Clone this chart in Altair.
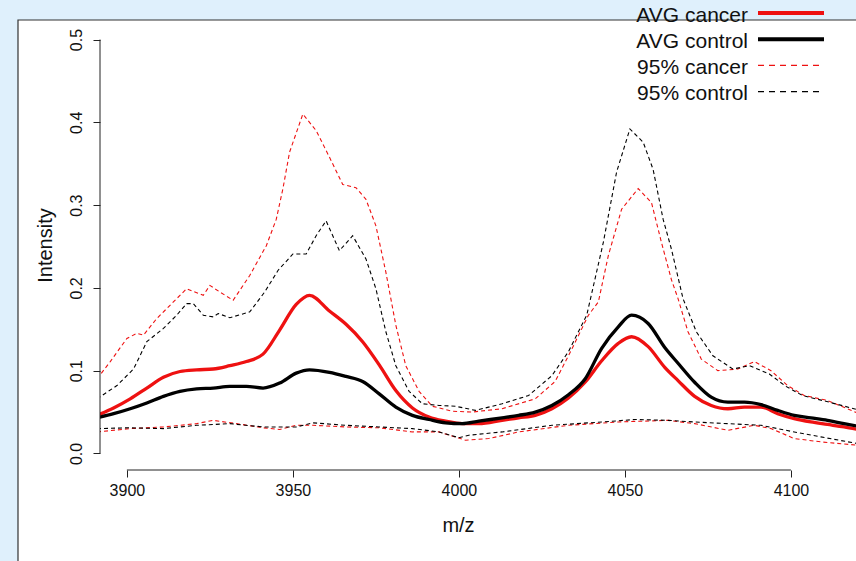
import altair as alt
import pandas as pd

# ---------------- data ----------------
grid_mz = [3891, 3896, 3901, 3906, 3911, 3916, 3921, 3926, 3931, 3936, 3941, 3946,
           3951, 3955, 3961, 3966, 3971, 3976, 3981, 3986, 3991, 3996, 4001, 4006,
           4013, 4018, 4023, 4028, 4033, 4038, 4043, 4048, 4052, 4057, 4062, 4066,
           4071, 4076, 4081, 4086, 4091, 4096, 4101, 4106, 4111, 4116, 4120]

avg_cancer = [0.046, 0.055, 0.066, 0.079, 0.092, 0.099, 0.101, 0.102, 0.106, 0.111, 0.120, 0.149,
              0.180, 0.191, 0.172, 0.156, 0.135, 0.107, 0.076, 0.055, 0.044, 0.039, 0.036, 0.036,
              0.040, 0.043, 0.046, 0.054, 0.067, 0.086, 0.112, 0.133, 0.141, 0.129, 0.104, 0.088,
              0.069, 0.058, 0.054, 0.056, 0.056, 0.048, 0.042, 0.038, 0.035, 0.032, 0.029]

avg_control = [0.043, 0.048, 0.054, 0.061, 0.069, 0.075, 0.078, 0.079, 0.081, 0.081, 0.079, 0.085,
               0.097, 0.101, 0.098, 0.093, 0.087, 0.072, 0.056, 0.046, 0.041, 0.037, 0.036, 0.039,
               0.043, 0.046, 0.050, 0.058, 0.071, 0.090, 0.127, 0.153, 0.167, 0.157, 0.128, 0.109,
               0.086, 0.068, 0.062, 0.062, 0.059, 0.052, 0.046, 0.043, 0.040, 0.036, 0.033]

cancer_hi_mz = [3891, 3895, 3900, 3903, 3905, 3909, 3914, 3918, 3923, 3925, 3928, 3932, 3937,
                3942, 3945, 3947, 3949, 3953, 3957, 3961, 3965, 3969, 3972, 3975, 3978, 3981,
                3984, 3988, 3992, 3998, 4004, 4013, 4023, 4029, 4034, 4039, 4042, 4045, 4049,
                4054, 4058, 4061, 4064, 4066, 4069, 4073, 4078, 4084, 4089, 4094, 4099, 4104,
                4111, 4120]
cancer_hi = [0.090, 0.111, 0.139, 0.145, 0.143, 0.163, 0.183, 0.199, 0.191, 0.203, 0.195, 0.185, 0.215,
             0.251, 0.283, 0.320, 0.364, 0.410, 0.390, 0.358, 0.325, 0.321, 0.307, 0.275, 0.219, 0.155,
             0.106, 0.075, 0.057, 0.051, 0.050, 0.054, 0.066, 0.087, 0.126, 0.167, 0.183, 0.239, 0.295,
             0.320, 0.303, 0.255, 0.210, 0.187, 0.147, 0.114, 0.100, 0.102, 0.111, 0.100, 0.082, 0.070,
             0.064, 0.049]

control_hi_mz = [3891, 3897, 3902, 3906, 3911, 3915, 3918, 3920, 3923, 3926, 3927.5, 3931, 3937,
                 3941.5, 3945.5, 3950, 3954, 3957, 3960, 3964, 3968, 3972, 3975, 3978, 3981, 3985,
                 3989, 3994, 3999, 4005, 4013, 4021, 4028, 4033, 4038.5, 4043.5, 4047.5, 4051.5,
                 4055.5, 4058.5, 4061.5, 4064, 4067.5, 4071.5, 4076.5, 4082.5, 4087.5, 4093.5,
                 4098.5, 4103.5, 4110.5, 4120]
control_hi = [0.066, 0.082, 0.102, 0.135, 0.151, 0.167, 0.181, 0.181, 0.167, 0.165, 0.169, 0.164, 0.171,
              0.195, 0.221, 0.241, 0.241, 0.263, 0.281, 0.245, 0.263, 0.235, 0.199, 0.147, 0.106, 0.075,
              0.060, 0.058, 0.057, 0.052, 0.060, 0.070, 0.094, 0.123, 0.167, 0.255, 0.340, 0.392,
              0.376, 0.343, 0.283, 0.247, 0.187, 0.147, 0.118, 0.102, 0.106, 0.096,
              0.081, 0.070, 0.063, 0.053]

cancer_lo_mz = [3891, 3901, 3911, 3921, 3926, 3933, 3941, 3946, 3951, 3956, 3966, 3976, 3986, 3994,
                4002, 4009, 4018, 4033, 4048, 4063, 4071, 4081, 4089, 4094, 4101, 4109, 4120]
cancer_lo = [0.026, 0.030, 0.032, 0.036, 0.040, 0.036, 0.031, 0.029, 0.034, 0.034, 0.032, 0.031, 0.026, 0.026,
             0.016, 0.018, 0.026, 0.034, 0.038, 0.040, 0.036, 0.028, 0.034, 0.030, 0.018, 0.014, 0.010]

control_lo_mz = [3891, 3901, 3911, 3921, 3931, 3941, 3951, 3956, 3966, 3976, 3986, 3994, 4000, 4003,
                 4013, 4028, 4043, 4053, 4063, 4071, 4081, 4091, 4101, 4109, 4120]
control_lo = [0.030, 0.031, 0.030, 0.034, 0.036, 0.032, 0.032, 0.037, 0.034, 0.032, 0.030, 0.026, 0.019, 0.022,
              0.026, 0.034, 0.038, 0.041, 0.040, 0.038, 0.036, 0.034, 0.026, 0.020, 0.012]

legend_labels = ["AVG cancer", "AVG control", "95% cancer", "95% control"]
x_ticks = [3900, 3950, 4000, 4050, 4100]
y_ticks = [0.0, 0.1, 0.2, 0.3, 0.4, 0.5]

# ---------------- styling ----------------
RED = "#ee1111"
BLACK = "#000000"
W, H = 756, 447
FONT = "Liberation Sans"

curves = [
    ("AVG cancer", "AVG cancer", grid_mz, avg_cancer),
    ("AVG control", "AVG control", grid_mz, avg_control),
    ("cancer hi", "95% cancer", cancer_hi_mz, cancer_hi),
    ("cancer lo", "95% cancer", cancer_lo_mz, cancer_lo),
    ("control hi", "95% control", control_hi_mz, control_hi),
    ("control lo", "95% control", control_lo_mz, control_lo),
]
rows = []
for cid, style, xs, ys in curves:
    for i, (xv, yv) in enumerate(zip(xs, ys)):
        rows.append({"curve": cid, "style": style, "mz": xv, "y": yv, "i": i})
df = pd.DataFrame(rows)

xscale = alt.Scale(domain=[3891.9, 4119.6], nice=False, zero=False)
yscale = alt.Scale(domain=[-0.02, 0.52], nice=False, zero=False)

color_scale = alt.Scale(domain=legend_labels, range=[RED, BLACK, RED, BLACK])

x_enc = alt.X("mz:Q", scale=xscale,
              axis=alt.Axis(values=x_ticks, title="m/z", domain=False, grid=False, zindex=2,
                            tickColor="#222", tickSize=7, labelFontSize=16, labelFont=FONT,
                            labelColor="#111", labelPadding=5, labelBaseline="top",
                            titleFont=FONT, titleFontSize=20, titleFontWeight="normal",
                            titleColor="#111", titleX=358, titleY=55, titleBaseline="middle",
                            format="d"))
y_enc = alt.Y("y:Q", scale=yscale,
              axis=alt.Axis(values=y_ticks, title="Intensity", domain=False, grid=False, zindex=2,
                            tickColor="#222", tickSize=7, labelFontSize=16, labelFont=FONT,
                            labelColor="#111", labelAngle=-90, labelAlign="center",
                            labelBaseline="bottom", labelPadding=9, format=".1f",
                            titleFont=FONT, titleFontSize=20, titleFontWeight="normal",
                            titleColor="#111", titleX=-55, titleY=222, titleBaseline="middle",
                            titleAngle=-90))

base = alt.Chart(df)

# white panel with dark border (decoration)
panel = alt.Chart(pd.DataFrame({"a": [0]})).mark_rect(
    fill="white", stroke="#333333", strokeWidth=1.2, clip=False
).encode(x=alt.value(-82), x2=alt.value(900), y=alt.value(-3), y2=alt.value(700))

dashed = base.transform_filter(
    (alt.datum.style == "95% cancer") | (alt.datum.style == "95% control")
).mark_line(clip=True, strokeWidth=1.1, strokeDash=[4, 3]).encode(
    x=x_enc, y=y_enc,
    color=alt.Color("style:N", scale=color_scale, legend=None),
    detail="curve:N", order="i:Q",
)

solid = base.transform_filter(
    (alt.datum.style == "AVG cancer") | (alt.datum.style == "AVG control")
).mark_line(clip=True, interpolate="monotone", strokeWidth=3.3).encode(
    x=alt.X("mz:Q", scale=xscale), y=alt.Y("y:Q", scale=yscale),
    color=alt.Color("style:N", scale=color_scale, legend=None),
    detail="curve:N", order="i:Q",
)

# R-style axis lines spanning first to last tick
axis_df = pd.DataFrame({"x0": [x_ticks[0]], "x1": [x_ticks[-1]], "y0": [y_ticks[0]], "y1": [y_ticks[-1]]})
xline = alt.Chart(axis_df).mark_rule(color="#222", strokeWidth=1).encode(
    x=alt.X("x0:Q", scale=xscale), x2="x1:Q", y=alt.value(H))
yline = alt.Chart(axis_df).mark_rule(color="#222", strokeWidth=1).encode(
    y=alt.Y("y0:Q", scale=yscale), y2="y1:Q", x=alt.value(0))

# legend (top right, labels left of samples)
leg_layers = []
leg_colors = [RED, BLACK, RED, BLACK]
leg_widths = [4, 4, 1.4, 1.4]
leg_dash = [[1, 0], [1, 0], [6, 5], [6, 5]]
one = pd.DataFrame({"a": [0]})
for i, lab in enumerate(legend_labels):
    ty = -7.5 + i * 26.2
    leg_layers.append(
        alt.Chart(one).mark_text(text=lab, align="right", baseline="middle", font=FONT,
                                 fontSize=21, color="#111", clip=False)
        .encode(x=alt.value(648), y=alt.value(ty))
    )
    leg_layers.append(
        alt.Chart(one).mark_rule(color=leg_colors[i], strokeWidth=leg_widths[i],
                                 strokeDash=leg_dash[i], clip=False)
        .encode(x=alt.value(658), x2=alt.value(724), y=alt.value(ty - 2.5))
    )

chart = alt.layer(panel, dashed, solid, xline, yline, *leg_layers).properties(
    width=W, height=H,
    padding={"left": 100, "top": 23, "right": 0, "bottom": 91},
    autosize=alt.AutoSizeParams(type="none"),
    background="#dff0fc",
).configure_view(stroke=None)

chart.save("out.html", embed_options={"renderer": "svg", "actions": False})
